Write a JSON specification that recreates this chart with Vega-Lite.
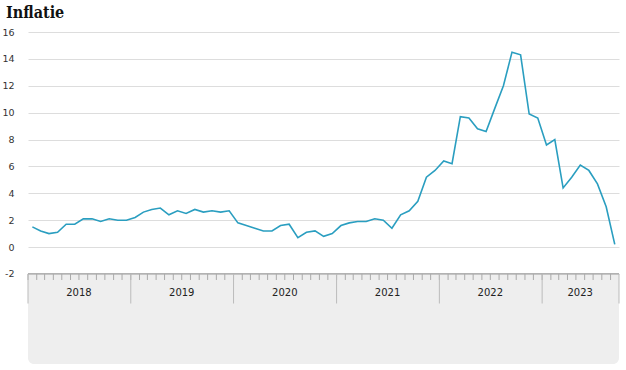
{
  "$schema": "https://vega.github.io/schema/vega-lite/v6.json",
  "width": 591,
  "height": 332,
  "autosize": {"type": "none"},
  "padding": {"left": 28, "top": 32, "right": 7, "bottom": 6},
  "background": "white",
  "config": {"view": {"stroke": null}},
  "title": {"text": "Inflatie", "anchor": "start", "frame": "group", "dx": -22, "offset": 6, "fontSize": 16, "font": "DejaVu Serif Condensed", "fontWeight": "bold", "color": "#111111"},
  "datasets": {
    "cpi": [
      {"date": "2018-01-01", "v": 1.5}, {"date": "2018-02-01", "v": 1.2}, {"date": "2018-03-01", "v": 1.0}, {"date": "2018-04-01", "v": 1.1},
      {"date": "2018-05-01", "v": 1.7}, {"date": "2018-06-01", "v": 1.7}, {"date": "2018-07-01", "v": 2.1}, {"date": "2018-08-01", "v": 2.1},
      {"date": "2018-09-01", "v": 1.9}, {"date": "2018-10-01", "v": 2.1}, {"date": "2018-11-01", "v": 2.0}, {"date": "2018-12-01", "v": 2.0},
      {"date": "2019-01-01", "v": 2.2}, {"date": "2019-02-01", "v": 2.6}, {"date": "2019-03-01", "v": 2.8}, {"date": "2019-04-01", "v": 2.9},
      {"date": "2019-05-01", "v": 2.4}, {"date": "2019-06-01", "v": 2.7}, {"date": "2019-07-01", "v": 2.5}, {"date": "2019-08-01", "v": 2.8},
      {"date": "2019-09-01", "v": 2.6}, {"date": "2019-10-01", "v": 2.7}, {"date": "2019-11-01", "v": 2.6}, {"date": "2019-12-01", "v": 2.7},
      {"date": "2020-01-01", "v": 1.8}, {"date": "2020-02-01", "v": 1.6}, {"date": "2020-03-01", "v": 1.4}, {"date": "2020-04-01", "v": 1.2},
      {"date": "2020-05-01", "v": 1.2}, {"date": "2020-06-01", "v": 1.6}, {"date": "2020-07-01", "v": 1.7}, {"date": "2020-08-01", "v": 0.7},
      {"date": "2020-09-01", "v": 1.1}, {"date": "2020-10-01", "v": 1.2}, {"date": "2020-11-01", "v": 0.8}, {"date": "2020-12-01", "v": 1.0},
      {"date": "2021-01-01", "v": 1.6}, {"date": "2021-02-01", "v": 1.8}, {"date": "2021-03-01", "v": 1.9}, {"date": "2021-04-01", "v": 1.9},
      {"date": "2021-05-01", "v": 2.1}, {"date": "2021-06-01", "v": 2.0}, {"date": "2021-07-01", "v": 1.4}, {"date": "2021-08-01", "v": 2.4},
      {"date": "2021-09-01", "v": 2.7}, {"date": "2021-10-01", "v": 3.4}, {"date": "2021-11-01", "v": 5.2}, {"date": "2021-12-01", "v": 5.7},
      {"date": "2022-01-01", "v": 6.4}, {"date": "2022-02-01", "v": 6.2}, {"date": "2022-03-01", "v": 9.7}, {"date": "2022-04-01", "v": 9.6},
      {"date": "2022-05-01", "v": 8.8}, {"date": "2022-06-01", "v": 8.6}, {"date": "2022-07-01", "v": 10.3}, {"date": "2022-08-01", "v": 12.0},
      {"date": "2022-09-01", "v": 14.5}, {"date": "2022-10-01", "v": 14.3}, {"date": "2022-11-01", "v": 9.9}, {"date": "2022-12-01", "v": 9.6},
      {"date": "2023-01-01", "v": 7.6}, {"date": "2023-02-01", "v": 8.0}, {"date": "2023-03-01", "v": 4.4}, {"date": "2023-04-01", "v": 5.2},
      {"date": "2023-05-01", "v": 6.1}, {"date": "2023-06-01", "v": 5.7}, {"date": "2023-07-01", "v": 4.7}, {"date": "2023-08-01", "v": 3.0},
      {"date": "2023-09-01", "v": 0.2}
    ],
    "years": [
      {"year": "2018", "start": "2018-01-01", "mid": "2018-07-01"},
      {"year": "2019", "start": "2019-01-01", "mid": "2019-07-01"},
      {"year": "2020", "start": "2020-01-01", "mid": "2020-07-01"},
      {"year": "2021", "start": "2021-01-01", "mid": "2021-07-01"},
      {"year": "2022", "start": "2022-01-01", "mid": "2022-07-01"},
      {"year": "2023", "start": "2023-01-01", "mid": "2023-05-16"}
    ]
  },
  "resolve": {"scale": {"x": "shared", "y": "shared"}},
  "layer": [
    {
      "data": {"values": [{}]},
      "mark": {"type": "rect", "fill": "#eeeeee", "cornerRadiusBottomLeft": 6, "cornerRadiusBottomRight": 6},
      "encoding": {
        "x": {"datum": {"year": 2018, "month": 1, "date": 1, "utc": true}, "type": "temporal",
              "scale": {"type": "utc", "domain": [{"year": 2018, "month": 1, "date": 1, "utc": true}, {"year": 2023, "month": 10, "date": 1, "utc": true}]},
              "axis": null},
        "x2": {"datum": {"year": 2023, "month": 10, "date": 1, "utc": true}},
        "y": {"datum": -2, "type": "quantitative", "scale": {"domain": [-8.7, 16], "nice": false, "zero": false}},
        "y2": {"datum": -8.7}
      }
    },
    {
      "data": {"values": [{}]},
      "mark": {"type": "rule", "color": "#999999", "strokeWidth": 1.3},
      "encoding": {
        "x": {"datum": {"year": 2018, "month": 1, "date": 1, "utc": true}, "type": "temporal"},
        "x2": {"datum": {"year": 2023, "month": 10, "date": 1, "utc": true}},
        "y": {"datum": -2, "type": "quantitative"}
      }
    },
    {
      "data": {"name": "cpi"},
      "mark": {"type": "rule", "color": "#aaaaaa", "strokeWidth": 1},
      "encoding": {
        "x": {"field": "date", "timeUnit": "utcyearmonth", "type": "temporal"},
        "y": {"datum": -2, "type": "quantitative"},
        "y2": {"datum": -2.45}
      }
    },
    {
      "data": {"name": "years"},
      "mark": {"type": "rule", "color": "#bbbbbb", "strokeWidth": 1},
      "encoding": {
        "x": {"field": "start", "type": "temporal"},
        "y": {"datum": -2, "type": "quantitative"},
        "y2": {"datum": -4.2}
      }
    },
    {
      "data": {"values": [{}]},
      "mark": {"type": "rule", "color": "#bbbbbb", "strokeWidth": 1},
      "encoding": {
        "x": {"datum": {"year": 2023, "month": 10, "date": 1, "utc": true}, "type": "temporal"},
        "y": {"datum": -2, "type": "quantitative"},
        "y2": {"datum": -4.2}
      }
    },
    {
      "data": {"name": "years"},
      "mark": {"type": "text", "font": "DejaVu Sans", "fontSize": 10, "color": "#222222", "baseline": "middle", "align": "center"},
      "encoding": {
        "x": {"field": "mid", "type": "temporal"},
        "y": {"datum": -3.45, "type": "quantitative"},
        "text": {"field": "year"}
      }
    },
    {
      "data": {"name": "cpi"},
      "mark": {"type": "line", "color": "#2a9ec0", "strokeWidth": 1.6},
      "encoding": {
        "x": {"field": "date", "timeUnit": "utcyearmonth", "type": "temporal", "bandPosition": 0.5},
        "y": {"field": "v", "type": "quantitative",
              "axis": {"values": [-2, 0, 2, 4, 6, 8, 10, 12, 14, 16], "tickCount": 20, "grid": true, "gridColor": "#dddddd", "gridWidth": 1.2, "zindex": 0,
                       "domain": false, "ticks": false, "labelPadding": 14, "labelAlign": "right", "labelOverlap": false, "labelBound": false, "labelFlush": false,
                       "labelExpr": "datum.value < 0 ? '-' + abs(datum.value) : '' + datum.value",
                       "labelFont": "DejaVu Sans", "labelFontSize": 9.5, "labelColor": "#333333", "title": null}}
      }
    }
  ]
}
